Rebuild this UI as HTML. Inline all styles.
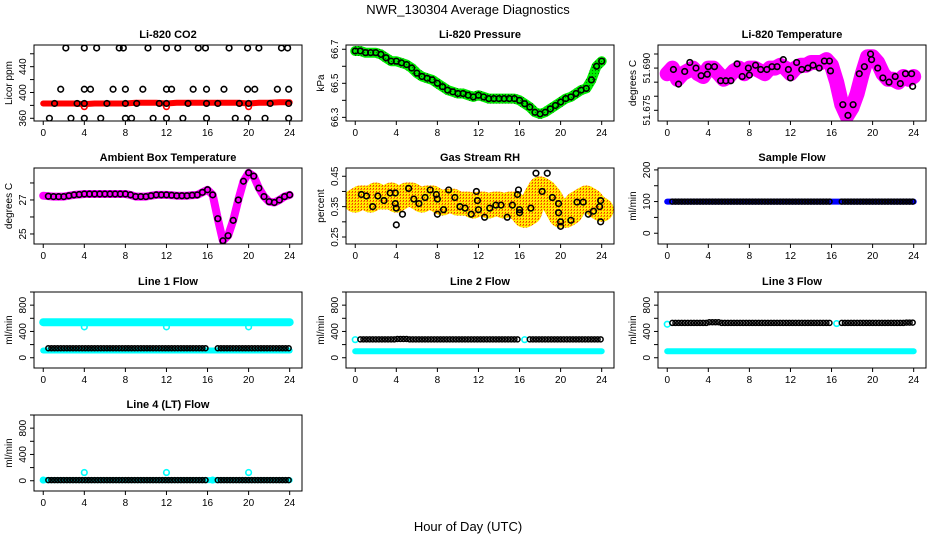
<!DOCTYPE html>
<html><head><meta charset="utf-8"><style>
html,body{margin:0;padding:0;background:#fff;}
svg{display:block;font-family:"Liberation Sans",Arial,sans-serif;}
</style></head><body>
<svg id="chart" width="936" height="540" viewBox="0 0 936 540">
<defs>
<pattern id="pGreen" width="3" height="3" patternUnits="userSpaceOnUse"><rect width="3" height="3" fill="#00ee00"/><rect x="1" y="1" width="1" height="1" fill="#007700"/></pattern>
<pattern id="pRH" width="3" height="3" patternUnits="userSpaceOnUse"><rect width="3" height="3" fill="#ffee00"/><rect x="0" y="0" width="2" height="1" fill="#ff8800"/><rect x="1" y="2" width="1" height="1" fill="#ee3300"/></pattern>
</defs>
<text x="468" y="14" text-anchor="middle" font-size="13">NWR_130304  Average Diagnostics</text>
<text x="468" y="531" text-anchor="middle" font-size="13">Hour of Day (UTC)</text>
</svg>
<script>
// ---- data ----
const hourly = [0,1,2,3,4,5,6,7,8,9,10,11,12,13,14,15,16,17,18,19,20,21,22,23,24];
const halfHours = [0,0.5,1,1.5,2,2.5,3,3.5,4,4.5,5,5.5,6,6.5,7,7.5,8,8.5,9,9.5,10,10.5,11,11.5,12,12.5,13,13.5,14,14.5,15,15.5,16,16.5,17,17.5,18,18.5,19,19.5,20,20.5,21,21.5,22,22.5,23,23.5,24];
const xTicks = [0,4,8,12,16,20,24];

const co2Red = [383,383,383,383,382,383,383,383,383,384,384,384,383,384,384,384,384,384,384,384,383,384,384,385,385];
const co2TopT = [2.2,4,5.2,7.4,7.8,10.2,12,13.1,15.1,15.8,18.1,19.9,21,23.2,23.8];
const co2TopV = [469,469,469,469,469,469,469,469,469,469,469,469,469,469,469];
const co2MidT = [1.7,4,4.6,6.8,8,9.7,12,12.5,14.6,15.9,17.6,19.9,20.6,22.8,23.9];
const co2MidV = [405,405,405,405,405,405,405,405,405,405,405,405,405,405,405];
const co2LowT = [1.1,3.3,4,6.2,8,9.1,11.3,12,14.1,15.9,17,19.1,20,22.1,23.9];
const co2LowV = [383,383,383,383,383,383,383,383,383,383,383,383,383,383,383];
const co2BotT = [0.6,2.7,4,5.6,8,8.6,10.7,12,13.6,15.9,18.7,19.9,21.6,23.9];
const co2BotV = [360,360,360,360,360,360,360,360,360,360,360,360,360,360];

const pressure = [66.69,66.69,66.68,66.68,66.68,66.67,66.65,66.63,66.63,66.62,66.61,66.59,66.56,66.54,66.53,66.52,66.5,66.48,66.46,66.45,66.44,66.44,66.43,66.42,66.43,66.42,66.41,66.41,66.41,66.41,66.41,66.41,66.4,66.38,66.36,66.33,66.32,66.33,66.35,66.37,66.39,66.41,66.42,66.44,66.46,66.47,66.52,66.6,66.63];

const liTemp = [51.688,51.690,51.686,51.688,51.689,51.690,51.688,51.687,51.690,51.690,51.688,51.686,51.687,51.689,51.690,51.688,51.690,51.690,51.689,51.688,51.690,51.690,51.691,51.690,51.688,51.690,51.691,51.691,51.692,51.692,51.692,51.693,51.691,51.685,51.677,51.673,51.676,51.681,51.688,51.694,51.694,51.692,51.688,51.686,51.686,51.685,51.687,51.686,51.687];
const liTempPtsT = [0.6,1.1,1.7,2.2,2.8,3.3,3.9,4,4.6,5.2,5.7,6.2,6.8,7.3,7.9,8,8.6,9.1,9.7,10.2,10.7,11.3,11.8,12,12.6,13.1,13.7,14.2,14.8,15.3,15.8,15.9,17.1,17.6,18.1,18.7,19.2,19.8,19.9,20.5,21,21.6,22.2,22.7,23.2,23.8,23.9];
const liTempPtsV = [51.6895,51.6843,51.6888,51.6920,51.6900,51.6873,51.6878,51.6905,51.6905,51.6855,51.6855,51.6855,51.6915,51.6870,51.6900,51.6875,51.6910,51.6895,51.6895,51.6905,51.6905,51.6930,51.6895,51.6865,51.6920,51.6895,51.6900,51.6910,51.6900,51.6925,51.6925,51.6890,51.6770,51.6732,51.6770,51.6880,51.6905,51.6950,51.6930,51.6900,51.6865,51.6850,51.6870,51.6845,51.6880,51.6880,51.6835];

const ambient = [27.25,27.22,27.2,27.2,27.2,27.25,27.3,27.32,27.35,27.35,27.35,27.35,27.35,27.35,27.35,27.35,27.35,27.3,27.2,27.2,27.2,27.25,27.3,27.3,27.3,27.28,27.25,27.25,27.25,27.28,27.3,27.45,27.6,27.3,25.9,24.6,24.9,25.8,27.0,28.1,28.6,28.4,27.7,27.2,26.9,26.85,27.0,27.2,27.3];

const rhBand = [0.37,0.38,0.38,0.37,0.39,0.38,0.38,0.39,0.37,0.38,0.39,0.39,0.38,0.37,0.38,0.38,0.37,0.36,0.37,0.37,0.36,0.36,0.36,0.35,0.36,0.36,0.35,0.36,0.36,0.35,0.36,0.36,0.34,0.32,0.33,0.38,0.41,0.40,0.38,0.35,0.32,0.32,0.33,0.36,0.37,0.38,0.37,0.35,0.34];
const rhPtsT = [0.6,1.1,1.7,2.2,2.8,3.4,3.9,3.9,4,4,4.6,5.2,5.7,6.2,6.8,7.3,7.9,8,8,8.6,9.1,9.7,10.2,10.7,11.3,11.8,11.9,12,12.6,13.1,13.7,14.2,14.8,15.3,15.8,15.9,16,16,17.1,17.6,18.2,18.7,19.2,19.8,19.8,20,20,21,21.6,22.2,22.7,23.2,23.8,23.9,23.9];
const rhPtsV = [0.39,0.385,0.35,0.385,0.37,0.395,0.395,0.36,0.345,0.29,0.325,0.41,0.375,0.36,0.38,0.405,0.39,0.375,0.325,0.34,0.405,0.38,0.35,0.345,0.325,0.40,0.37,0.34,0.315,0.345,0.355,0.355,0.315,0.355,0.39,0.405,0.34,0.33,0.345,0.46,0.40,0.46,0.38,0.36,0.33,0.30,0.285,0.305,0.365,0.365,0.325,0.335,0.35,0.37,0.30];

const sampleBlue = [100,100,100,100,100,100,100,100,100,100,100,100,100,100,100,100,100,100,100,100,100,100,100,100,100];
const sampleBlack = [100,100,100,100,100,100,100,100,100,100,100,100,100,100,100,100,100,100,100,100,100,100,100,100,100];

const line1Cyan = [540,540,540,540,540,540,540,540,540,540,540,540,540,540,540,540,540,540,540,540,540,540,540,540,540];
const line1CyanLow = [110,110,110,110,110,110,110,110,110,110,110,110,110,110,110,110,110,110,110,110,110,110,110,110,110];
const line1Black = [145,145,145,145,145,145,145,145,145,145,145,145,145,145,145,145,145,145,145,145,145,145,145,145,145];
const line1DipT = [4,12,20];
const line1DipV = [470,470,470];

const line2Cyan = [100,100,100,100,100,100,100,100,100,100,100,100,100,100,100,100,100,100,100,100,100,100,100,100,100];
const line2Black = [280,280,280,280,285,280,280,280,280,280,280,280,280,280,280,280,280,280,280,280,280,280,280,280,280];

const line3Cyan = [100,100,100,100,100,100,100,100,100,100,100,100,100,100,100,100,100,100,100,100,100,100,100,100,100];
const line3Black = [530,530,530,530,540,530,530,530,530,530,530,530,530,530,530,530,530,530,530,530,530,530,530,535,535];

const line4Cyan = [10,10,10,10,10,10,10,10,10,10,10,10,10,10,10,10,10,10,10,10,10,10,10,10,10];
const line4Black = [10,10,10,10,10,10,10,10,10,10,10,10,10,10,10,10,10,10,10,10,10,10,10,10,10];
const line4SpikeT = [4,12,20];
const line4SpikeV = [125,125,125];

// ---- layout ----
const NS = 'http://www.w3.org/2000/svg';
const svg = document.getElementById('chart');
const colLeft = [34, 346, 658];
const rowTop = [45, 168, 292, 415];
const boxW = 268, boxH = 76;
const XMIN = -0.9, XMAX = 25.2;

function mk(tag, attrs, parent) {
  const e = document.createElementNS(NS, tag);
  for (const k in attrs) e.setAttribute(k, attrs[k]);
  (parent || svg).appendChild(e);
  return e;
}
function grid(step, from, to, skipA, skipB) {
  const out = [];
  for (let t = from; t <= to + 1e-9; t += step) { if (!(t > skipA && t < skipB)) out.push(+t.toFixed(3)); }
  return out;
}
function valAt(times, vals, t) {
  let i = 0;
  while (i < times.length - 1 && times[i + 1] < t) i++;
  return vals[Math.min(i, vals.length - 1)];
}

function panel(opt) {
  const L = colLeft[opt.col], T = rowTop[opt.row];
  const g = mk('g', {});
  
  
  const sx = t => L + (t - XMIN) / (XMAX - XMIN) * boxW;
  const sy = v => T + boxH - (v - opt.ymin) / (opt.ymax - opt.ymin) * boxH;
  const clip = 'clip-' + opt.name;
  const cp = mk('clipPath', {id: clip}, g);
  mk('rect', {x: L, y: T, width: boxW, height: boxH}, cp);
  const plot = mk('g', {'clip-path': 'url(#' + clip + ')'}, g);
  
  
  opt.draw(plot, sx, sy);
  const box = mk('rect', {x: L, y: T, width: boxW, height: boxH, fill: 'none', stroke: '#000', 'stroke-width': 1}, g);
  
  
  const title = mk('text', {x: L + boxW / 2, y: T - 7, 'text-anchor': 'middle', 'font-size': 11, 'font-weight': 'bold'}, g);
  title.textContent = opt.title;
  
  
  const xb = T + boxH;
  mk('line', {x1: sx(0), x2: sx(24), y1: xb, y2: xb, stroke: '#000'}, g);
  xTicks.forEach(t => {
    mk('line', {x1: sx(t), x2: sx(t), y1: xb, y2: xb + 4, stroke: '#000'}, g);
    const tx = mk('text', {x: sx(t), y: xb + 15, 'text-anchor': 'middle', 'font-size': 10}, g);
    tx.textContent = t;
    
    
  });
  mk('line', {x1: L, x2: L, y1: sy(opt.ticks[0]), y2: sy(opt.ticks[opt.ticks.length - 1]), stroke: '#000'}, g);
  opt.ticks.forEach(v => mk('line', {x1: L - 4, x2: L, y1: sy(v), y2: sy(v), stroke: '#000'}, g));
  opt.labels.forEach((v, i) => {
    const y = sy(v), x = L - 8;
    const tx = mk('text', {x: x, y: y, 'text-anchor': 'middle', 'font-size': 10, transform: 'rotate(-90 ' + x + ' ' + y + ')'}, g);
    tx.textContent = opt.labelText ? opt.labelText[i] : v;
    
    
  });
  const yl = L - 22, ym = T + boxH / 2;
  const ylab = mk('text', {x: yl, y: ym, 'text-anchor': 'middle', 'font-size': 10, transform: 'rotate(-90 ' + yl + ' ' + ym + ')'}, g);
  ylab.textContent = opt.ylab;
  
  
}

function band(p, sx, sy, times, vals, color, w, name) {
  const pts = times.map((t, i) => sx(t).toFixed(1) + ',' + sy(vals[i]).toFixed(1)).join(' ');
  const e = mk('polyline', {points: pts, fill: 'none', stroke: color, 'stroke-width': w, 'stroke-linejoin': 'round', 'stroke-linecap': 'round'}, p);
  
  
}
function dots(p, sx, sy, times, vals, color, name, r, sw) {
  times.forEach((t, i) => {
    const c = mk('circle', {cx: sx(t), cy: sy(vals[i]), r: r || 2.8, fill: 'none', stroke: color, 'stroke-width': sw || 1.6}, p);
    
    
  });
}
function flowDots(p, sx, sy, hours, vals, color, name, skipA, skipB) {
  const ts = grid(0.3, 0.5, 23.9, skipA, skipB);
  dots(p, sx, sy, ts, ts.map(t => valAt(hours, vals, t)), color, name, 2.5, 1.5);
}

const flowTicks = [0,200,400,600,800,1000];
const flowLabels = [0,400,800];

panel({name:'co2', col:0, row:0, title:'Li-820 CO2', ylab:'Licor ppm', ymin:355.8, ymax:473.6,
  ticks:[360,380,400,420,440,460], labels:[360,400,440],
  draw:(p,sx,sy)=>{
    band(p,sx,sy,hourly,co2Red,'#ff0000',6,'co2-red-series');
    dots(p,sx,sy,[4,12,20],[378,378,378],'#ff0000','co2-red-dip');
    dots(p,sx,sy,co2TopT,co2TopV,'#000','co2-point');
    dots(p,sx,sy,co2MidT,co2MidV,'#000','co2-point');
    dots(p,sx,sy,co2LowT,co2LowV,'#000','co2-point');
    dots(p,sx,sy,co2BotT,co2BotV,'#000','co2-point');
  }});
panel({name:'pressure', col:1, row:0, title:'Li-820 Pressure', ylab:'kPa', ymin:66.2786, ymax:66.725,
  ticks:[66.3,66.4,66.5,66.6,66.7], labels:[66.3,66.5,66.7],
  draw:(p,sx,sy)=>{
    band(p,sx,sy,halfHours,pressure,'url(#pGreen)',10,'pressure-green-series');
    dots(p,sx,sy,halfHours,pressure,'#000','pressure-point');
  }});
panel({name:'li-temp', col:2, row:0, title:'Li-820 Temperature', ylab:'degrees C', ymin:51.6712, ymax:51.6982,
  ticks:[51.675,51.68,51.685,51.69,51.695], labels:[51.675,51.69], labelText:['51.675','51.690'],
  draw:(p,sx,sy)=>{
    band(p,sx,sy,halfHours,liTemp,'#ff00ff',15,'li-temp-magenta-series');
    dots(p,sx,sy,liTempPtsT,liTempPtsV,'#000','li-temp-point');
  }});
panel({name:'ambient', col:0, row:1, title:'Ambient Box Temperature', ylab:'degrees C', ymin:24.41, ymax:28.88,
  ticks:[25,26,27,28], labels:[25,27],
  draw:(p,sx,sy)=>{
    band(p,sx,sy,halfHours,ambient,'#ff00ff',8,'ambient-magenta-series');
    dots(p,sx,sy,halfHours.slice(1),ambient.slice(1),'#000','ambient-point');
  }});
panel({name:'rh', col:1, row:1, title:'Gas Stream RH', ylab:'percent', ymin:0.227, ymax:0.4772,
  ticks:[0.25,0.3,0.35,0.4,0.45], labels:[0.25,0.35,0.45], labelText:['0.25','0.35','0.45'],
  draw:(p,sx,sy)=>{
    band(p,sx,sy,halfHours,rhBand,'url(#pRH)',24,'rh-orange-series');
    dots(p,sx,sy,rhPtsT,rhPtsV,'#000','rh-point');
  }});
panel({name:'sample-flow', col:2, row:1, title:'Sample Flow', ylab:'ml/min', ymin:-34, ymax:206,
  ticks:[0,50,100,150,200], labels:[0,100,200],
  draw:(p,sx,sy)=>{
    band(p,sx,sy,hourly,sampleBlue,'#0000ff',6,'sample-flow-blue-series');
    flowDots(p,sx,sy,hourly,sampleBlack,'#000','sample-flow-point',16.1,16.9);
  }});
panel({name:'line1', col:0, row:2, title:'Line 1 Flow', ylab:'ml/min', ymin:-156, ymax:1000,
  ticks:flowTicks, labels:flowLabels,
  draw:(p,sx,sy)=>{
    band(p,sx,sy,hourly,line1Cyan,'#00ffff',8,'line1-cyan-series');
    band(p,sx,sy,hourly,line1CyanLow,'#00ffff',6,'line1-cyan-low-series');
    dots(p,sx,sy,line1DipT,line1DipV,'#00ffff','line1-cyan-dip');
    flowDots(p,sx,sy,hourly,line1Black,'#000','line1-point',16.1,16.9);
  }});
panel({name:'line2', col:1, row:2, title:'Line 2 Flow', ylab:'ml/min', ymin:-156, ymax:1000,
  ticks:flowTicks, labels:flowLabels,
  draw:(p,sx,sy)=>{
    band(p,sx,sy,hourly,line2Cyan,'#00ffff',6,'line2-cyan-series');
    dots(p,sx,sy,[0,16.5],[275,275],'#00ffff','line2-cyan-point');
    flowDots(p,sx,sy,hourly,line2Black,'#000','line2-point',16.1,16.9);
  }});
panel({name:'line3', col:2, row:2, title:'Line 3 Flow', ylab:'ml/min', ymin:-156, ymax:1000,
  ticks:flowTicks, labels:flowLabels,
  draw:(p,sx,sy)=>{
    band(p,sx,sy,hourly,line3Cyan,'#00ffff',6,'line3-cyan-series');
    dots(p,sx,sy,[0,16.5],[510,520],'#00ffff','line3-cyan-point');
    flowDots(p,sx,sy,hourly,line3Black,'#000','line3-point',16.1,16.9);
  }});
panel({name:'line4', col:0, row:3, title:'Line 4 (LT) Flow', ylab:'ml/min', ymin:-156, ymax:1000,
  ticks:flowTicks, labels:flowLabels,
  draw:(p,sx,sy)=>{
    band(p,sx,sy,hourly,line4Cyan,'#00ffff',6,'line4-cyan-series');
    dots(p,sx,sy,line4SpikeT,line4SpikeV,'#00ffff','line4-cyan-spike');
    dots(p,sx,sy,[0,16.5],[10,10],'#00ffff','line4-cyan-point');
    flowDots(p,sx,sy,hourly,line4Black,'#000','line4-point',16.1,16.9);
  }});
</script>
</body></html>
